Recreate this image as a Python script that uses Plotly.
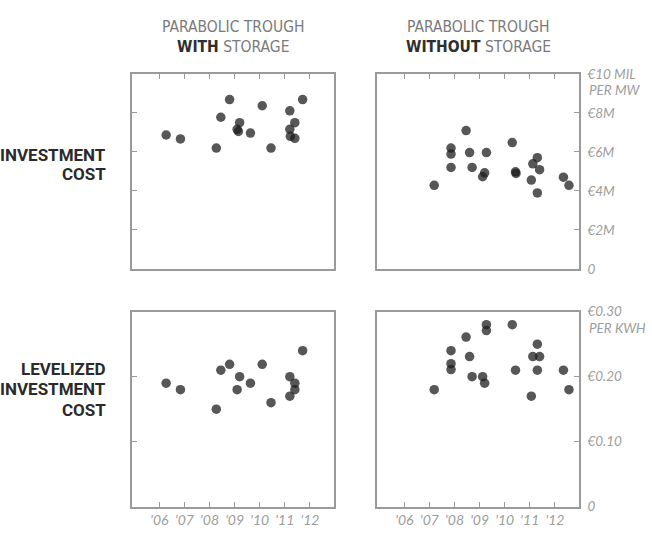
import plotly.graph_objects as go

# ---- data ----
years = [2006, 2007, 2008, 2009, 2010, 2011, 2012]
year_labels = ["'06", "'07", "'08", "'09", "'10", "'11", "'12"]

# Parabolic trough WITH storage
with_inv_x = [2006.27, 2006.84, 2008.27, 2008.45, 2008.8, 2009.1, 2009.15, 2009.2, 2009.63,
              2010.1, 2010.45, 2011.2, 2011.4, 2011.2, 2011.22, 2011.4, 2011.71]
with_inv_y = [6.87, 6.67, 6.2, 7.78, 8.69, 7.16, 7.05, 7.5, 6.97,
              8.37, 6.2, 8.11, 7.5, 7.16, 6.8, 6.7, 8.69]
with_lev_x = [2006.27, 2006.84, 2008.27, 2008.45, 2008.8, 2009.2, 2009.1, 2009.63,
              2010.1, 2010.45, 2011.2, 2011.4, 2011.4, 2011.2, 2011.71]
with_lev_y = [0.190, 0.180, 0.150, 0.210, 0.219, 0.200, 0.180, 0.190,
              0.219, 0.160, 0.200, 0.190, 0.180, 0.170, 0.240]

# Parabolic trough WITHOUT storage
without_inv_x = [2007.19, 2007.86, 2007.86, 2007.86, 2008.46, 2008.6, 2008.7, 2009.2, 2009.12,
                 2009.27, 2010.3, 2010.43, 2010.45, 2011.06, 2011.12, 2011.3, 2011.39, 2011.3,
                 2012.34, 2012.56]
without_inv_y = [4.29, 6.20, 5.89, 5.21, 7.10, 5.97, 5.21, 4.93, 4.73,
                 5.97, 6.48, 4.98, 4.90, 4.56, 5.39, 5.71, 5.09, 3.90,
                 4.71, 4.29]
without_lev_x = [2007.19, 2007.86, 2007.86, 2007.86, 2008.46, 2008.6, 2008.7, 2009.12, 2009.2,
                 2009.27, 2009.27, 2010.3, 2010.43, 2011.06, 2011.12, 2011.39, 2011.3, 2011.3,
                 2012.34, 2012.56]
without_lev_y = [0.180, 0.240, 0.220, 0.211, 0.261, 0.231, 0.200, 0.200, 0.190,
                 0.280, 0.271, 0.280, 0.210, 0.170, 0.231, 0.231, 0.250, 0.210,
                 0.210, 0.180]

inv_ticks = [0, 2, 4, 6, 8, 10]
inv_labels = ["0", "€2M", "€4M", "€6M", "€8M", "€10 MIL"]
inv_unit = "PER MW"
lev_ticks = [0, 0.10, 0.20, 0.30]
lev_labels = ["0", "€0.10", "€0.20", "€0.30"]
lev_unit = "PER KWH"

col_titles = [("PARABOLIC TROUGH", "WITH", "STORAGE"),
              ("PARABOLIC TROUGH", "WITHOUT", "STORAGE")]
row_titles = [["INVESTMENT", "COST"], ["LEVELIZED", "INVESTMENT", "COST"]]

# ---- styling ----
W, H = 652, 537
FRAME = "#9a9a9a"
LABEL = "#9d9d9d"
MARK = "rgba(28,28,28,0.74)"
NARROW = "DejaVu Sans Condensed, Roboto, sans-serif"
ROWFONT = "Roboto, DejaVu Sans Condensed, sans-serif"
TICKFONT = dict(family="Lato, Open Sans, sans-serif", size=13.5, color=LABEL, style="italic")

xl = [132 / W, 334 / W]
xr = [377 / W, 579 / W]
yt = [(H - 269) / H, (H - 68) / H]
yb = [(H - 514) / H, (H - 313) / H]
xrange = [2004.91, 2012.96]

fig = go.Figure()
panels = [
    (with_inv_x, with_inv_y, "x", "y"),
    (without_inv_x, without_inv_y, "x2", "y2"),
    (with_lev_x, with_lev_y, "x3", "y3"),
    (without_lev_x, without_lev_y, "x4", "y4"),
]
for xs, ys, xa, ya in panels:
    fig.add_trace(go.Scatter(x=xs, y=ys, xaxis=xa, yaxis=ya, mode="markers",
                             marker=dict(size=9.5, color=MARK, line=dict(width=0)),
                             showlegend=False, hoverinfo="skip"))

common = dict(showline=True, mirror=True, linecolor=FRAME, linewidth=1.5,
              showgrid=False, zeroline=False, ticks="inside", ticklen=5,
              tickwidth=1.2, tickcolor=FRAME, fixedrange=True)

layout = dict(
    width=W, height=H, margin=dict(l=0, r=0, t=0, b=0),
    paper_bgcolor="white", plot_bgcolor="white",
    xaxis=dict(domain=xl, range=xrange, anchor="y", side="top", tickvals=years,
               showticklabels=False, **common),
    yaxis=dict(domain=yt, range=[0, 10], anchor="x", tickvals=inv_ticks[1:-1],
               showticklabels=False, **common),
    xaxis2=dict(domain=xr, range=xrange, anchor="y2", side="top", tickvals=years,
                showticklabels=False, **common),
    yaxis2=dict(domain=yt, range=[0, 10], anchor="x2", side="right",
                tickvals=inv_ticks, ticktext=inv_labels, tickfont=TICKFONT,
                ticklabelstandoff=4, **common),
    xaxis3=dict(domain=xl, range=xrange, anchor="y3", tickvals=years, ticktext=year_labels,
                tickfont=dict(TICKFONT, size=14), **common),
    yaxis3=dict(domain=yb, range=[0, 0.30], anchor="x3", tickvals=lev_ticks[1:-1],
                showticklabels=False, **common),
    xaxis4=dict(domain=xr, range=xrange, anchor="y4", tickvals=years, ticktext=year_labels,
                tickfont=dict(TICKFONT, size=14), **common),
    yaxis4=dict(domain=yb, range=[0, 0.30], anchor="x4", side="right",
                tickvals=lev_ticks, ticktext=lev_labels, tickfont=TICKFONT,
                ticklabelstandoff=4, **common),
)
fig.update_layout(**layout)

ann = []
# column titles
for (l1, bold, rest), dom in zip(col_titles, [xl, xr]):
    cx = (dom[0] + dom[1]) / 2
    ann.append(dict(text=l1, x=cx, y=1 - 20 / H, xref="paper", yref="paper",
                    xanchor="center", yanchor="middle", showarrow=False,
                    font=dict(family=NARROW, size=15.5, color="#7a7a7a")))
    ann.append(dict(text=f"<b>{bold}</b> <span style='color:#7a7a7a'>{rest}</span>",
                    x=cx, y=1 - 40 / H, xref="paper", yref="paper",
                    xanchor="center", yanchor="middle", showarrow=False,
                    font=dict(family=NARROW, size=15.5, color="#2e2e2e")))
# row titles
row_centers = [[151.5, 171.5], [372, 393, 414]]
for lines, ys in zip(row_titles, row_centers):
    for t, yy in zip(lines, ys):
        ann.append(dict(text=t, x=108 / W, y=1 - yy / H, xref="paper",
                        yref="paper", xanchor="right", yanchor="middle", showarrow=False,
                        font=dict(family=ROWFONT, size=17, weight=700, color="#2a2a2a")))
# unit sublabels under top tick labels
for unit, ya, top in [(inv_unit, "y2", inv_ticks[-1]), (lev_unit, "y4", lev_ticks[-1])]:
    ann.append(dict(text=unit, x=587 / W, xref="paper", y=top, yref=ya,
                    xanchor="left", yanchor="middle", yshift=-16, showarrow=False,
                    font=TICKFONT))
fig.update_layout(annotations=ann)

fig.write_html("out.html", config={"displayModeBar": False},
               post_script="document.body.style.margin='0';document.body.style.overflow='hidden';")
